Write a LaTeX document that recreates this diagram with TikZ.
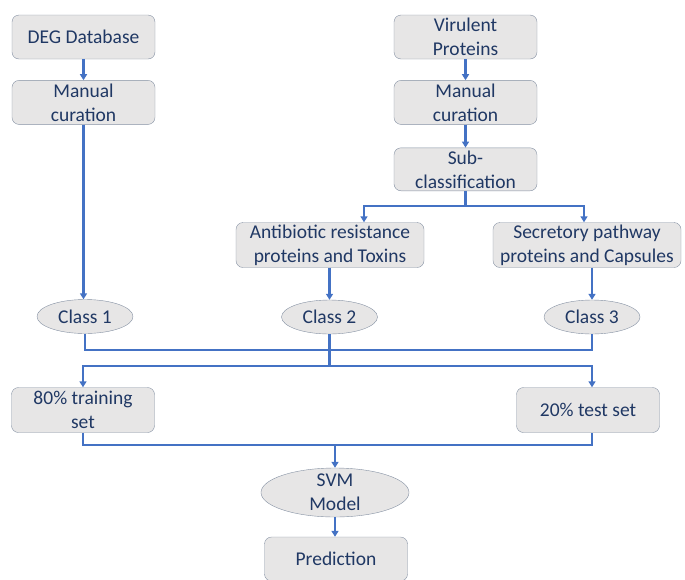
\documentclass[tikz,border=0pt]{standalone}
\usepackage{fontspec}
\setmainfont{Carlito}
\usetikzlibrary{shapes.geometric, positioning, arrows.meta}

\definecolor{boxfill}{HTML}{E7E6E6}
\definecolor{boxline}{HTML}{8490A2}
\definecolor{txtblue}{HTML}{203864}
\definecolor{flowblue}{HTML}{4472C4}

\tikzset{
  stage/.style={draw=boxline, fill=boxfill, rounded corners=7pt, minimum width=143pt,
    minimum height=44pt, inner sep=0pt, align=center, text=txtblue,
    font=\fontsize{19.5}{24}\selectfont},
  classnode/.style={ellipse, draw=boxline, fill=boxfill, minimum width=96pt,
    minimum height=34pt, inner sep=0pt, align=center, text=txtblue,
    font=\fontsize{19.5}{24}\selectfont},
  flow/.style={draw=flowblue, line width=2.2pt},
  arr/.style={flow, -{Triangle[length=6pt,width=7pt]}}
}

\begin{document}
\begin{tikzpicture}[x=1pt,y=-1pt,node distance=21pt]
    \useasboundingbox (0,0) rectangle (685,579);

    \node[stage] (deg) at (83.5,37) {DEG Database};
    \node[stage] (curL) [below=of deg] {Manual\\curation};
    \node[stage] (vir) at (465.5,37) {Virulent\\Proteins};
    \node[stage] (curR) [below=of vir] {Manual\\curation};
    \node[stage, minimum height=43pt] (sub) [below=23pt of curR] {Sub-\\classification};
    \node[stage, minimum width=188pt, minimum height=45pt] (anti) at (330,245) {Antibiotic resistance\\proteins and Toxins};
    \node[stage, minimum width=188pt, minimum height=45pt] (secr) at (587,245) {Secretory pathway\\proteins and Capsules};
    \node[classnode] (c1) at (85,316.5) {Class 1};
    \node[classnode] (c2) at (329.5,317) {Class 2};
    \node[classnode] (c3) at (592,317) {Class 3};
    \node[stage, minimum height=45pt] (train) at (83,410) {80\% training\\set};
    \node[stage, minimum height=45pt] (test) at (588,410) {20\% test set};
    \node[classnode, minimum width=148pt, minimum height=49pt, inner ysep=-10pt] (svm) at (335,492.5) {SVM\\Model};
    \node[stage] (pred) at (336,559) {Prediction};

    \coordinate (brL) at (364,206);
    \coordinate (brR) at (584,206);
    \coordinate (m1) at (0,350);
    \coordinate (m2) at (0,366);
    \coordinate (m3) at (0,445);

    % left and right input chains
    \draw[arr] (deg) -- (curL);
    \draw[arr] (curL.south) -- (curL.south |- c1.north);
    \draw[arr] (vir) -- (curR);
    \draw[arr] (curR) -- (sub);

    % sub-classification split
    \draw[arr] (sub.south) |- (brL) -- (brL |- anti.north);
    \draw[arr] (sub.south |- brR) -- (brR) -- (brR |- secr.north);
    \draw[arr] (anti.south -| c2.north) -- (c2.north);
    \draw[arr] (secr.south -| c3.north) -- (c3.north);

    % classes merged, then split into sets
    \draw[flow] (c1.south) |- (c3.south |- m1) -- (c3.south);
    \draw[flow] (c2.south) -- (c2.south |- m2);
    \draw[arr] (c2.south |- m2) -| (train.north);
    \draw[arr] (c2.south |- m2) -| (c3 |- test.north);

    % sets to model
    \draw[flow] (train.south) |- (c3 |- m3) -- (c3 |- test.south);
    \draw[arr] (svm.north |- m3) -- (svm.north);
    \draw[arr] (svm.south) -- (svm.south |- pred.north);
\end{tikzpicture}
\end{document}
